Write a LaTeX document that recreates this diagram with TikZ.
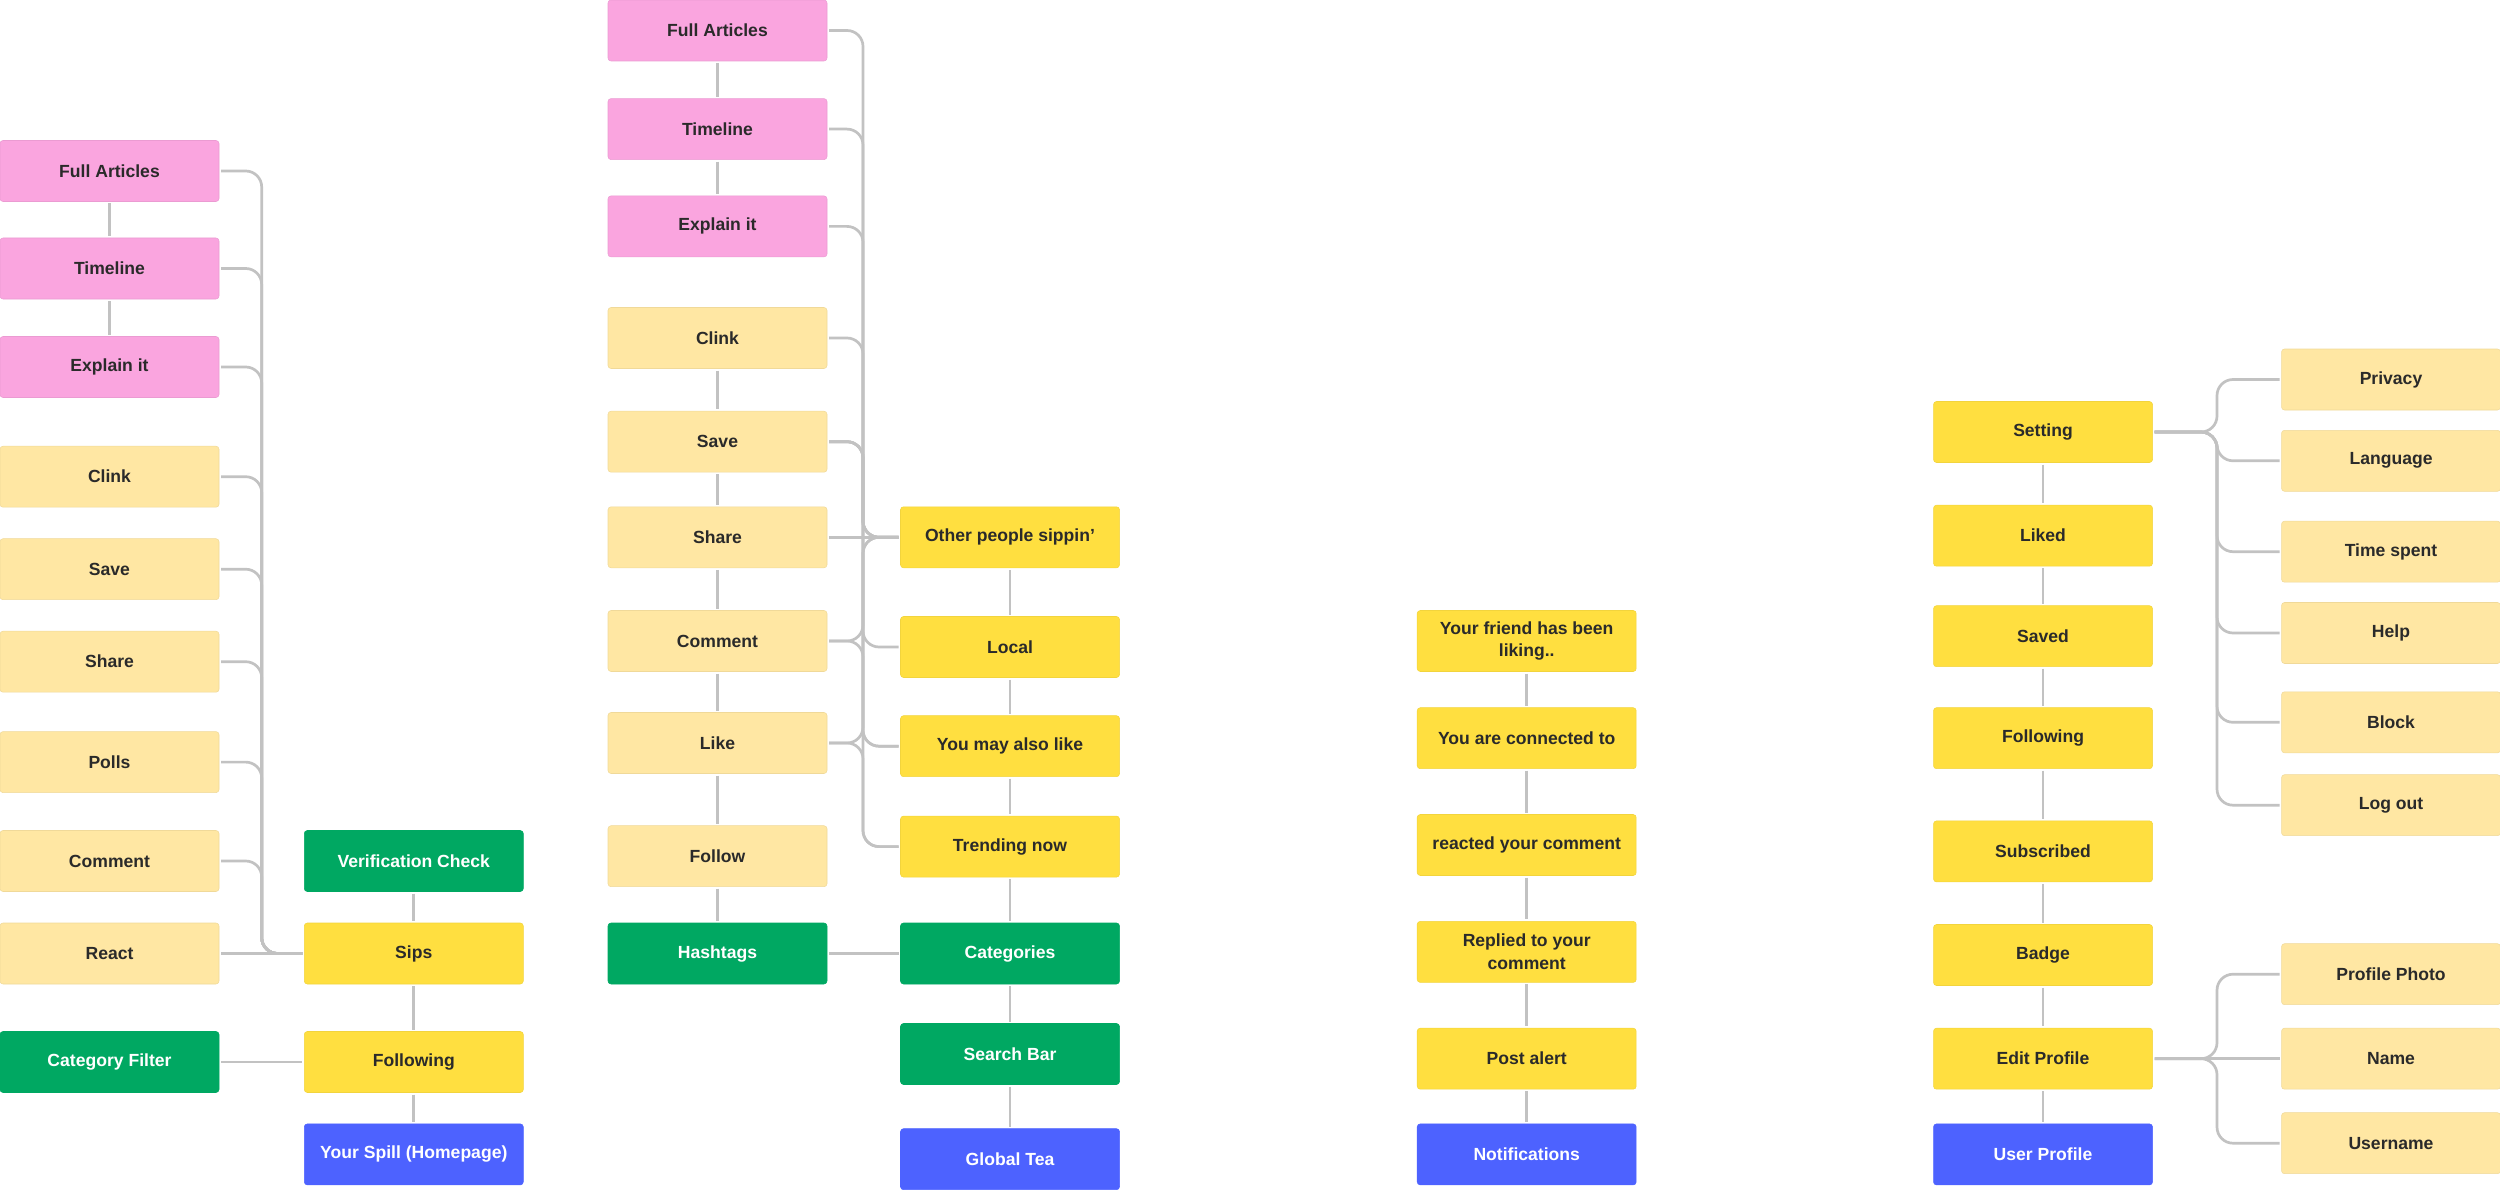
\documentclass[tikz,border=0pt]{standalone}
\usepackage{fontspec}
\setmainfont{Liberation Sans}
\usepackage{xcolor}
\usepackage{tikz}

\definecolor{cardpink}{HTML}{FAA5DF}
\definecolor{cardcream}{HTML}{FFE7A3}
\definecolor{cardyellow}{HTML}{FFDF40}
\definecolor{cardgreen}{HTML}{00A862}
\definecolor{cardblue}{HTML}{4D62FF}
\definecolor{wirec}{HTML}{C2C2C2}
\definecolor{ink}{HTML}{2A2A2A}

\begin{document}
\begin{tikzpicture}[
  x=0.2mm, y=-0.2mm,
  card/.style={rectangle, rounded corners=0.6mm, minimum width=43.8mm, minimum height=12.2mm, inner sep=0pt, outer sep=0.4mm, align=center, font=\fontsize{10}{13}\selectfont\bfseries, text=ink, line width=0.3pt},
  pinkc/.style={card, fill=cardpink, draw=cardpink!94!black},
  creamc/.style={card, fill=cardcream, draw=cardcream!94!black},
  yellc/.style={card, fill=cardyellow, draw=cardyellow!95!black},
  greenc/.style={card, fill=cardgreen, draw=cardgreen, text=white},
  bluec/.style={card, fill=cardblue, draw=cardblue, text=white},
  wire/.style={draw=wirec, line width=0.54mm},
  elbow/.style={wire, rounded corners=3.2mm}
]
\useasboundingbox (0,0) rectangle (2500,1191);

\node[pinkc] (fa1) at (109.5,171) {Full Articles};
\node[pinkc] (tl1) at (109.5,268.5) {Timeline};
\node[pinkc] (ei1) at (109.5,367) {Explain it};
\node[creamc] (clink1) at (109.5,476.7) {Clink};
\node[creamc] (save1) at (109.5,569.2) {Save};
\node[creamc] (share1) at (109.5,661.7) {Share};
\node[creamc] (polls1) at (109.5,762.1) {Polls};
\node[creamc] (comm1) at (109.5,861) {Comment};
\node[creamc] (react1) at (109.5,953.5) {React};
\node[greenc] (catfilt) at (109.5,1062) {Category Filter};

\node[greenc] (verif) at (413.8,861) {Verification Check};
\node[yellc] (sips) at (413.8,953.5) {Sips};
\node[yellc] (follow1) at (413.8,1062) {Following};
\node[bluec] (spill) at (413.8,1154.4) {Your Spill (Homepage)};

\node[pinkc] (fa2) at (717.5,30.5) {Full Articles};
\node[pinkc] (tl2) at (717.5,129.1) {Timeline};
\node[pinkc] (ei2) at (717.5,226.4) {Explain it};
\node[creamc] (clink2) at (717.5,338) {Clink};
\node[creamc] (save2) at (717.5,441.7) {Save};
\node[creamc] (share2) at (717.5,537.3) {Share};
\node[creamc] (comm2) at (717.5,641) {Comment};
\node[creamc] (like2) at (717.5,743) {Like};
\node[creamc] (follow2) at (717.5,856.2) {Follow};
\node[greenc] (hashtags) at (717.5,953.5) {Hashtags};

\node[yellc] (others) at (1010,537.3) {Other people sippin’};
\node[yellc] (local) at (1010,647) {Local};
\node[yellc] (maylike) at (1010,746.2) {You may also like};
\node[yellc] (trending) at (1010,846.6) {Trending now};
\node[greenc] (categories) at (1010,953.5) {Categories};
\node[greenc] (search) at (1010,1054) {Search Bar};
\node[bluec] (globaltea) at (1010,1159.2) {Global Tea};

\node[yellc] (friend) at (1526.7,641) {Your friend has been\\ liking..};
\node[yellc] (connected) at (1526.7,738.2) {You are connected to};
\node[yellc] (reacted) at (1526.7,845) {reacted your comment};
\node[yellc] (replied) at (1526.7,951.9) {Replied to your\\ comment};
\node[yellc] (postalert) at (1526.7,1058.7) {Post alert};
\node[bluec] (notif) at (1526.7,1154.4) {Notifications};

\node[yellc] (setting) at (2043,432) {Setting};
\node[yellc] (liked) at (2043,535.7) {Liked};
\node[yellc] (saved) at (2043,636.2) {Saved};
\node[yellc] (follow4) at (2043,738.2) {Following};
\node[yellc] (subscr) at (2043,851.4) {Subscribed};
\node[yellc] (badge) at (2043,955) {Badge};
\node[yellc] (editprof) at (2043,1058.7) {Edit Profile};
\node[bluec] (userprof) at (2043,1154.4) {User Profile};

\node[creamc] (privacy) at (2391,379.5) {Privacy};
\node[creamc] (language) at (2391,460.8) {Language};
\node[creamc] (timespent) at (2391,551.7) {Time spent};
\node[creamc] (help) at (2391,633) {Help};
\node[creamc] (block) at (2391,722.3) {Block};
\node[creamc] (logout) at (2391,805.2) {Log out};
\node[creamc] (photo) at (2391,974.2) {Profile Photo};
\node[creamc] (name) at (2391,1058.7) {Name};
\node[creamc] (username) at (2391,1143.2) {Username};

\coordinate (busA) at (261.7,0);
\coordinate (busB) at (863,0);
\coordinate (busD) at (2217,0);

\draw[wire] (fa1) -- (tl1);
\draw[wire] (tl1) -- (ei1);
\draw[elbow] (fa1.east) -| (busA |- sips.west) -- (sips.west);
\draw[elbow] (tl1.east) -| (busA |- sips.west) -- (sips.west);
\draw[elbow] (ei1.east) -| (busA |- sips.west) -- (sips.west);
\draw[elbow] (clink1.east) -| (busA |- sips.west) -- (sips.west);
\draw[elbow] (save1.east) -| (busA |- sips.west) -- (sips.west);
\draw[elbow] (share1.east) -| (busA |- sips.west) -- (sips.west);
\draw[elbow] (polls1.east) -| (busA |- sips.west) -- (sips.west);
\draw[elbow] (comm1.east) -| (busA |- sips.west) -- (sips.west);
\draw[wire] (react1) -- (sips);
\draw[wire] (verif) -- (sips);
\draw[wire] (sips) -- (follow1);
\draw[wire] (catfilt) -- (follow1);
\draw[wire] (follow1) -- (spill);

\draw[wire] (fa2) -- (tl2);
\draw[wire] (tl2) -- (ei2);
\draw[wire] (clink2) -- (save2);
\draw[wire] (save2) -- (share2);
\draw[wire] (share2) -- (comm2);
\draw[wire] (comm2) -- (like2);
\draw[wire] (like2) -- (follow2);
\draw[wire] (follow2) -- (hashtags);
\draw[wire] (hashtags) -- (categories);
\draw[elbow] (fa2.east) -| (busB |- others.west) -- (others.west);
\draw[elbow] (tl2.east) -| (busB |- others.west) -- (others.west);
\draw[elbow] (ei2.east) -| (busB |- others.west) -- (others.west);
\draw[elbow] (clink2.east) -| (busB |- others.west) -- (others.west);
\draw[elbow] (save2.east) -| (busB |- others.west) -- (others.west);
\draw[wire] (share2) -- (others);
\draw[elbow] (comm2.east) -| (busB |- others.west) -- (others.west);
\draw[elbow] (like2.east) -| (busB |- others.west) -- (others.west);
\draw[elbow] (save2.east) -| (busB |- local.west) -- (local.west);
\draw[elbow] (save2.east) -| (busB |- maylike.west) -- (maylike.west);
\draw[elbow] (save2.east) -| (busB |- trending.west) -- (trending.west);
\draw[elbow] (comm2.east) -| (busB |- maylike.west) -- (maylike.west);
\draw[elbow] (like2.east) -| (busB |- trending.west) -- (trending.west);
\draw[wire] (others) -- (local);
\draw[wire] (local) -- (maylike);
\draw[wire] (maylike) -- (trending);
\draw[wire] (trending) -- (categories);
\draw[wire] (categories) -- (search);
\draw[wire] (search) -- (globaltea);

\draw[wire] (friend) -- (connected);
\draw[wire] (connected) -- (reacted);
\draw[wire] (reacted) -- (replied);
\draw[wire] (replied) -- (postalert);
\draw[wire] (postalert) -- (notif);

\draw[wire] (setting) -- (liked);
\draw[wire] (liked) -- (saved);
\draw[wire] (saved) -- (follow4);
\draw[wire] (follow4) -- (subscr);
\draw[wire] (subscr) -- (badge);
\draw[wire] (badge) -- (editprof);
\draw[wire] (editprof) -- (userprof);
\draw[elbow] (setting.east) -| (busD |- privacy.west) -- (privacy.west);
\draw[elbow] (setting.east) -| (busD |- language.west) -- (language.west);
\draw[elbow] (setting.east) -| (busD |- timespent.west) -- (timespent.west);
\draw[elbow] (setting.east) -| (busD |- help.west) -- (help.west);
\draw[elbow] (setting.east) -| (busD |- block.west) -- (block.west);
\draw[elbow] (setting.east) -| (busD |- logout.west) -- (logout.west);
\draw[elbow] (editprof.east) -| (busD |- photo.west) -- (photo.west);
\draw[wire] (editprof) -- (name);
\draw[elbow] (editprof.east) -| (busD |- username.west) -- (username.west);
\end{tikzpicture}
\end{document}
